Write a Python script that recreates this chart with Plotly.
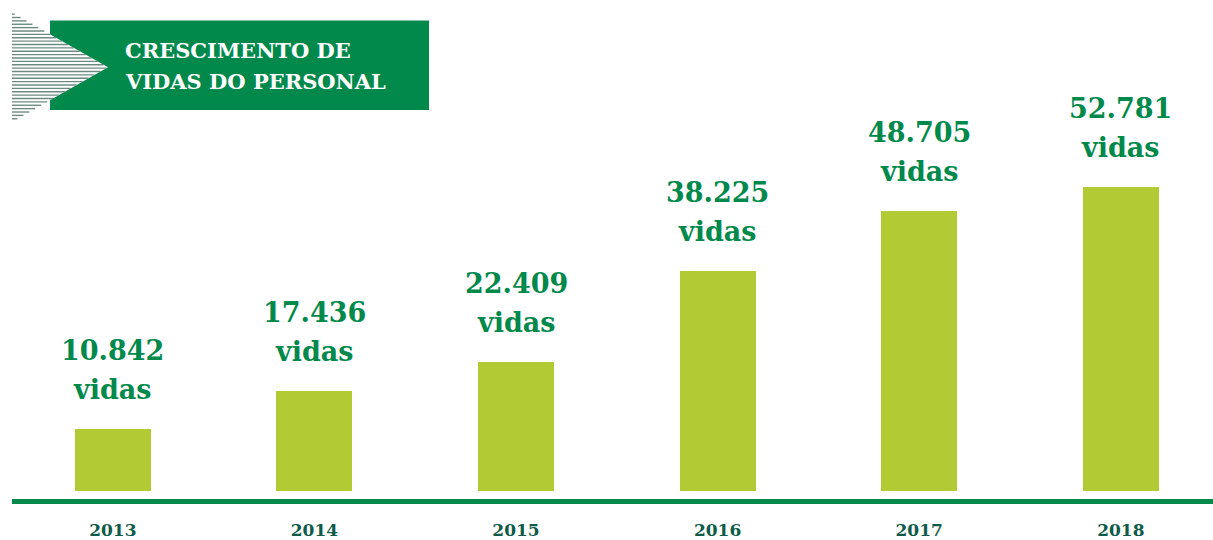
import plotly.graph_objects as go

# chart data
years = ['2013', '2014', '2015', '2016', '2017', '2018']
vidas = [10842, 17436, 22409, 38225, 48705, 52781]
labels = ['10.842', '17.436', '22.409', '38.225', '48.705', '52.781']
title_lines = ['CRESCIMENTO DE', 'VIDAS DO PERSONAL']

GREEN = '#00894b'
LIME = '#b2ca33'
DARK = '#0d5b48'
FONT = 'DejaVu Serif'

W, H = 1213, 540
L, R, T, B = 12, 0, 100, 30
PW, PH = W - L - R, H - T - B
SLOT = 201.6       # px between bar centres
BASE_PX = 494      # pixel row of y=0
SCALE = 306 / 52781  # px per unit


def px_x(px):
    return (px - L) / PW


def px_y(py):
    return (H - B - py) / PH


y_lo = -(H - B - BASE_PX) / SCALE
y_hi = (BASE_PX - T) / SCALE

fig = go.Figure()
fig.add_trace(go.Bar(
    x=list(range(len(years))),
    y=vidas,
    width=76 / SLOT,
    marker=dict(color=LIME, line=dict(width=0)),
    hoverinfo='skip',
))

for i, (v, lab) in enumerate(zip(vidas, labels)):
    fig.add_annotation(
        x=i, y=v, text=lab, showarrow=False,
        yanchor='bottom', yshift=61,
        font=dict(family=FONT, size=27, color=GREEN, weight='bold'),
    )
    fig.add_annotation(
        x=i, y=v, text='vidas', showarrow=False,
        yanchor='bottom', yshift=22,
        font=dict(family=FONT, size=27, color=GREEN, weight='bold'),
    )

shapes = []
# baseline
shapes.append(dict(type='line', xref='paper', yref='paper',
                   x0=0, x1=1, y0=px_y(504.5), y1=px_y(504.5),
                   line=dict(color=GREEN, width=5)))
# title box
shapes.append(dict(type='rect', xref='paper', yref='paper',
                   x0=px_x(50), x1=px_x(429), y0=px_y(110), y1=px_y(20),
                   fillcolor=GREEN, line=dict(width=0), layer='above'))
# striped arrow on the left
tip_len, top, bot = 96, 12, 122
mid = (top + bot) / 2
shapes.append(dict(type='path', xref='paper', yref='paper',
                   path=f'M {px_x(12)},{px_y(top)} L {px_x(12 + tip_len)},{px_y(mid)} L {px_x(12)},{px_y(bot)} Z',
                   fillcolor='white', line=dict(width=0), layer='above'))
yy = top + 1.5
while yy < bot:
    ln = tip_len * (1 - abs(yy - mid) / (mid - top))
    shapes.append(dict(type='line', xref='paper', yref='paper',
                       x0=px_x(12), x1=px_x(12 + ln), y0=px_y(yy), y1=px_y(yy),
                       line=dict(color='#6e8a80', width=1.4), layer='above'))
    yy += 3.4

for k, line in enumerate(title_lines):
    fig.add_annotation(
        xref='paper', yref='paper', x=px_x(123), y=px_y(50 + 31 * k),
        xanchor='left', yanchor='middle', align='left', showarrow=False,
        text=line,
        font=dict(family=FONT, size=21, color='white', weight='bold'),
    )

fig.update_layout(
    width=W, height=H,
    margin=dict(l=L, r=R, t=T, b=B, pad=0),
    paper_bgcolor='white', plot_bgcolor='white',
    showlegend=False, shapes=shapes,
    bargap=0,
)
fig.update_xaxes(
    range=[-0.5, -0.5 + PW / SLOT],
    tickmode='array', tickvals=list(range(len(years))), ticktext=years,
    showgrid=False, zeroline=False, showline=False, ticks='',
    tickfont=dict(family=FONT, size=17, color=DARK, weight='bold'),
    ticklabelstandoff=11,
)
fig.update_yaxes(range=[y_lo, y_hi], visible=False, showgrid=False, zeroline=False)

fig.write_html(
    'out.html',
    config={'displayModeBar': False},
    post_script="document.body.style.margin='0';document.body.style.overflow='hidden';",
)
